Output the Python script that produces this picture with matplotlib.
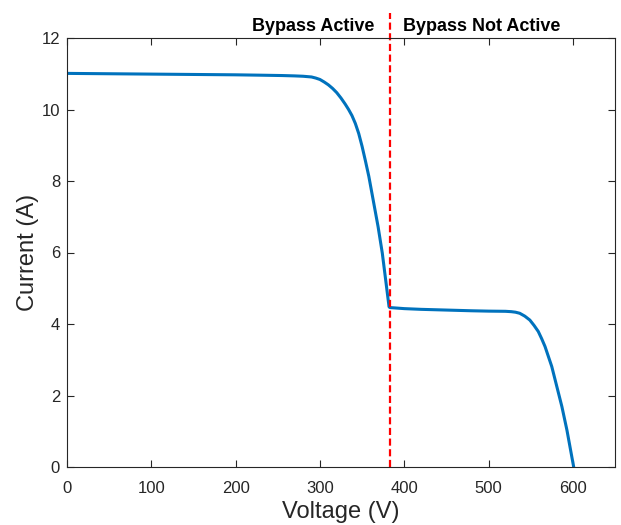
import numpy as np
import matplotlib
matplotlib.use("Agg")
import matplotlib.pyplot as plt

plt.rcParams['font.family'] = ['Liberation Sans', 'DejaVu Sans']

# I-V curve
voltage = [0, 50, 100, 150, 200, 229, 255, 270, 280, 290, 295, 300, 305, 310, 315, 320, 325,
           330, 334, 338, 342, 346, 350, 354, 358, 363, 369, 374, 378, 382,
           383, 400, 420, 450, 480, 500, 520, 527, 532, 537, 543, 549, 554, 559, 563, 567,
           571, 575, 581, 587, 593, 601]
current = [11.01, 11.0, 10.99, 10.98, 10.97, 10.96, 10.95, 10.94, 10.93, 10.91, 10.88, 10.84,
           10.77, 10.69, 10.59, 10.47, 10.32, 10.15, 10.00, 9.83, 9.61, 9.33, 8.97, 8.56,
           8.13, 7.49, 6.72, 5.98, 5.23, 4.48,
           4.46, 4.43, 4.41, 4.39, 4.37, 4.36, 4.355, 4.345, 4.33, 4.30, 4.22, 4.11, 3.96,
           3.79, 3.59, 3.37, 3.09, 2.81, 2.25, 1.69, 1.03, 0.0]

v_bypass = 383
y_ticks = [0, 2, 4, 6, 8, 10, 12]
x_ticks = [0, 100, 200, 300, 400, 500, 600]

axis_col = '#262626'

fig = plt.figure(figsize=(6.21, 5.25), dpi=100)
ax = fig.add_axes([67 / 621, 58 / 525, 548 / 621, 429 / 525])

ax.plot(voltage, current, color='#0072BD', linewidth=2.2, solid_joinstyle='round')
ax.plot([v_bypass, v_bypass], [0, 12.7], color='#FF0000', linestyle='--',
        linewidth=1.6, dashes=(3.2, 1.6), clip_on=False)

ax.text(v_bypass - 18, 12.2, 'Bypass Active', ha='right', va='baseline',
        fontsize=13, fontweight='bold', color='black')
ax.text(v_bypass + 15, 12.2, 'Bypass Not Active', ha='left', va='baseline',
        fontsize=13, fontweight='bold', color='black')

ax.set_xlim(0, 650)
ax.set_ylim(0, 12)
ax.set_xticks(x_ticks)
ax.set_yticks(y_ticks)
ax.tick_params(direction='in', length=5, width=0.8, colors=axis_col,
               labelsize=12, top=True, right=True)
ax.tick_params(axis='x', pad=10)
ax.tick_params(axis='y', pad=5)
for s in ax.spines.values():
    s.set_color(axis_col)
    s.set_linewidth(0.8)

ax.set_xlabel('Voltage (V)', fontsize=17, color=axis_col, labelpad=4)
ax.set_ylabel('Current (A)', fontsize=17, color=axis_col, labelpad=2)

fig.savefig('out.png', dpi=100)
